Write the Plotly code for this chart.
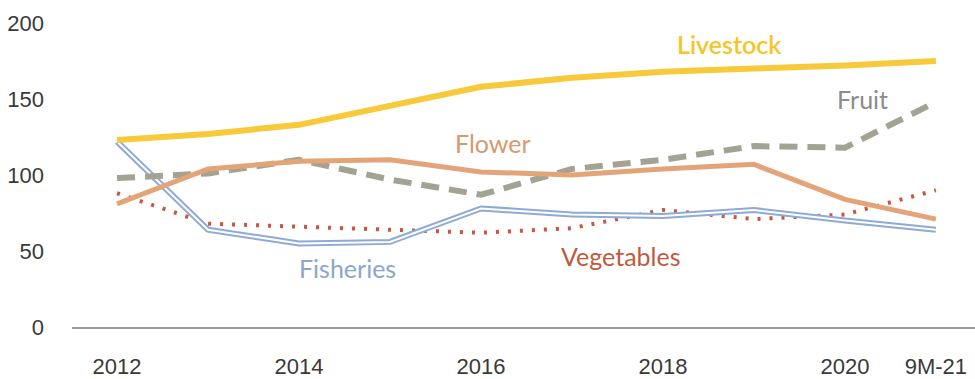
import plotly.graph_objects as go

# Period labels along the x axis
categories = ["2012", "2013", "2014", "2015", "2016", "2017", "2018", "2019", "2020", "9M-21"]
tick_labels = ["2012", "2014", "2016", "2018", "2020", "9M-21"]

# Index values per sector
livestock = [123, 127, 133, 146, 158, 164, 168, 170, 172, 175]
fruit = [98, 101, 110, 97, 87, 104, 110, 119, 118, 148]
flower = [81, 104, 109, 110, 102, 100, 104, 107, 84, 71]
fisheries = [122, 64, 55, 56, 78, 74, 73, 77, 70, 64]
vegetables = [88, 68, 66, 64, 62, 65, 77, 71, 74, 90]

fig = go.Figure()

fig.add_trace(go.Scatter(x=categories, y=vegetables, mode="lines",
                         line=dict(color="#c9553f", width=4, dash="3px,9px")))
# Fisheries drawn as a double line: a blue stroke with a white core
fig.add_trace(go.Scatter(x=categories, y=fisheries, mode="lines",
                         line=dict(color="#8eaad6", width=6)))
fig.add_trace(go.Scatter(x=categories, y=fisheries, mode="lines",
                         line=dict(color="#ffffff", width=2)))
fig.add_trace(go.Scatter(x=categories, y=fruit, mode="lines",
                         line=dict(color="#a3a293", width=6, dash="18px,10px")))
fig.add_trace(go.Scatter(x=categories, y=flower, mode="lines",
                         line=dict(color="#e3a478", width=5)))
fig.add_trace(go.Scatter(x=categories, y=livestock, mode="lines",
                         line=dict(color="#f8c93a", width=6)))

# Series name labels placed next to their lines (x as category index)
label_font = "Lato, 'Open Sans', sans-serif"
series_labels = [
    ("Livestock", 6.73, 186, "#f5c52a", 600),
    ("Fruit", 8.19, 150, "#8c8c8c", 400),
    ("Flower", 4.13, 121, "#d8996c", 400),
    ("Fisheries", 2.53, 39, "#8ca6cf", 400),
    ("Vegetables", 5.53, 46.5, "#c25a3c", 400),
]
for text, xi, yv, col, wt in series_labels:
    fig.add_annotation(x=xi, y=yv, xref="x", yref="y", text=text, showarrow=False,
                       font=dict(family=label_font, size=25, color=col, weight=wt))

tick_font = dict(family="'Liberation Sans', Arial, sans-serif", size=22, color="#3a3a3a")

fig.update_layout(
    width=975, height=379,
    margin=dict(l=72, r=0, t=23, b=46),
    paper_bgcolor="white", plot_bgcolor="white",
    showlegend=False,
    xaxis=dict(type="category", range=[-0.495, 9.43],
               tickvals=tick_labels, ticktext=tick_labels,
               showgrid=False, zeroline=False,
               showline=True, linecolor="#9a9a9a", linewidth=1.5,
               ticks="", tickfont=tick_font, ticklabelstandoff=19),
    yaxis=dict(range=[0, 200], tickvals=[0, 50, 100, 150, 200],
               showgrid=False, zeroline=False, showline=False,
               ticks="", tickfont=tick_font, ticklabelstandoff=27),
)

fig.write_html("out.html")
